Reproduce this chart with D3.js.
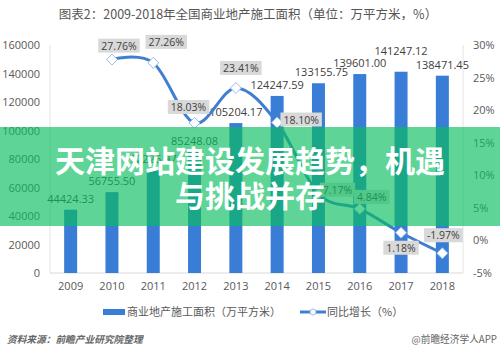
<!DOCTYPE html>
<html><head><meta charset="utf-8">
<script src="https://cdn.jsdelivr.net/npm/d3@7"></script>
<style>
html,body{margin:0;padding:0;background:#fff;}
svg{display:block;font-family:"Noto Sans CJK SC","Noto Sans",sans-serif;}
</style></head>
<body><svg id="c" width="500" height="353"></svg>
<script>
const years = ["2009","2010","2011","2012","2013","2014","2015","2016","2017","2018"];
const area = [44424.33, 56755.50, 72226.97, 85248.08, 105204.17, 124247.59, 133155.75, 139601.00, 141247.12, 138471.45];
const growthYears = ["2010","2011","2012","2013","2014","2015","2016","2017","2018"];
const growth = [27.76, 27.26, 18.03, 23.41, 18.10, 7.17, 4.84, 1.18, -1.97];
const leftTicks = [0, 20000, 40000, 60000, 80000, 100000, 120000, 140000, 160000];
const rightTicks = [-5, 0, 5, 10, 15, 20, 25, 30];
const title = "图表2：2009-2018年全国商业地产施工面积（单位：万平方米，%）";
const legendBar = "商业地产施工面积（万平方米）";
const legendLine = "同比增长（%）";
const source = "资料来源：前瞻产业研究院整理";
const credit = "@前瞻经济学人APP";
const overlayLines = ["天津网站建设发展趋势，机遇", "与挑战并存"];

const svg = d3.select("#c");
const L = 50, R = 463, T = 45, B = 273;
const x = d3.scaleBand().domain(years).range([L, R]).padding(0);
const yL = d3.scaleLinear().domain([0, 160000]).range([B, T]);
const yR = d3.scaleLinear().domain([-5, 30]).range([B, T]);
const barW = 13;
const blue = "#3a7dd7", lineBlue = "#3f7fd2", txt = "#595959";

// title
svg.append("text").attr("x", 248).attr("y", 19).attr("text-anchor", "middle")
  .attr("font-size", 12.5).attr("fill", "#555").text(title);

// frame lines
svg.append("line").attr("x1", L).attr("x2", L).attr("y1", T).attr("y2", B).attr("stroke", "#e3e3e3");
svg.append("line").attr("x1", R).attr("x2", R).attr("y1", T).attr("y2", B).attr("stroke", "#e3e3e3");
svg.append("line").attr("x1", L).attr("x2", R).attr("y1", B).attr("y2", B).attr("stroke", "#d9d9d9");

// left axis
const axL = svg.append("g").attr("transform", `translate(${L},0)`)
  .call(d3.axisLeft(yL).tickValues(leftTicks).tickSize(0).tickPadding(10).tickFormat(d3.format("d")));
axL.select(".domain").remove();
axL.selectAll("text").attr("font-size", 11).attr("fill", txt).attr("font-family", "'Open Sans','Noto Sans',sans-serif");

// right axis
const axR = svg.append("g").attr("transform", `translate(${R},0)`)
  .call(d3.axisRight(yR).tickValues(rightTicks).tickSize(0).tickPadding(10).tickFormat(d => d + "%"));
axR.select(".domain").remove();
axR.selectAll("text").attr("font-size", 11).attr("fill", txt).attr("font-family", "'Open Sans','Noto Sans',sans-serif");

// bottom axis
const axB = svg.append("g").attr("transform", `translate(0,${B})`)
  .call(d3.axisBottom(x).tickSize(0).tickPadding(9));
axB.select(".domain").remove();
axB.selectAll("text").attr("font-size", 11).attr("fill", txt).attr("font-family", "'Open Sans','Noto Sans',sans-serif");

// bars
svg.append("g").selectAll("rect").data(area).join("rect")
  .attr("x", (d, i) => x(years[i]) + x.bandwidth() / 2 - barW / 2)
  .attr("width", barW)
  .attr("y", d => yL(d))
  .attr("height", d => B - yL(d))
  .attr("fill", blue);

// bar labels
const barLift = [0, 0, 0, 0, 0, 0, 0, 0, 10, 0];
const barShift = [0, 0, 0, 0, 0, 0, 3, 0, 0, 0];
svg.append("g").selectAll("text").data(area).join("text")
  .attr("x", (d, i) => x(years[i]) + x.bandwidth() / 2 + barShift[i])
  .attr("y", (d, i) => yL(d) - 7 - barLift[i])
  .attr("text-anchor", "middle").attr("font-size", 11).attr("fill", "#404040")
  .attr("font-family", "'Open Sans','Noto Sans',sans-serif")
  .text(d => d.toFixed(2));

// growth line
const pts = growth.map((g, i) => [x(growthYears[i]) + x.bandwidth() / 2, yR(g)]);
svg.append("path").datum(pts)
  .attr("d", d3.line().curve(d3.curveCardinal.tension(0)))
  .attr("fill", "none").attr("stroke", lineBlue).attr("stroke-width", 3);

svg.append("g").selectAll("path").data(pts).join("path")
  .attr("transform", d => `translate(${d[0]},${d[1]})`)
  .attr("d", "M0,-5.5L5.5,0L0,5.5L-5.5,0Z")
  .attr("fill", "#fff").attr("stroke", "#9dbbe6").attr("stroke-width", 1);

// line labels
const lblOff = [[7, -14], [13, -21], [-6, -16], [5, -20], [24, -3], [19, -4], [12, -12], [0, 15], [1, -18]];
const lg = svg.append("g");
growth.forEach((g, i) => {
  const cx = pts[i][0] + lblOff[i][0], cy = pts[i][1] + lblOff[i][1];
  const grp = lg.append("g");
  const t = grp.append("text").attr("x", cx).attr("y", cy + 4)
    .attr("text-anchor", "middle").attr("font-size", 10.5).attr("fill", "#404040")
    .attr("font-family", "'Open Sans','Noto Sans',sans-serif")
    .text(g.toFixed(2) + "%");
  const w = t.node().getComputedTextLength() + 6;
  grp.insert("rect", "text").attr("x", cx - w / 2).attr("y", cy - 7).attr("width", w).attr("height", 14)
    .attr("fill", "#d9d9d9");
});

// legend
const legY = 312;
svg.append("rect").attr("x", 103).attr("y", legY - 3).attr("width", 22).attr("height", 6).attr("fill", blue);
svg.append("text").attr("x", 127).attr("y", legY + 4).attr("font-size", 11).attr("fill", txt).text(legendBar);
svg.append("line").attr("x1", 300).attr("x2", 326).attr("y1", legY).attr("y2", legY).attr("stroke", lineBlue).attr("stroke-width", 3);
svg.append("circle").attr("cx", 313).attr("cy", legY).attr("r", 3).attr("fill", "#fff").attr("stroke", "#9dbbe6");
svg.append("text").attr("x", 327).attr("y", legY + 4).attr("font-size", 11).attr("fill", txt).text(legendLine);

// footer
svg.append("text").attr("x", 7).attr("y", 343).attr("font-size", 9.7).attr("font-style", "italic")
  .attr("font-weight", "bold").attr("fill", "#666").text(source);
svg.append("text").attr("x", 497).attr("y", 343).attr("text-anchor", "end").attr("font-size", 9.7)
  .attr("fill", "#666").text(credit);

// overlay banner
svg.append("rect").attr("x", 0).attr("y", 127).attr("width", 500).attr("height", 99)
  .attr("fill", "rgb(8,190,93)").attr("fill-opacity", 0.65);
overlayLines.forEach((s, i) => {
  svg.append("text").attr("x", 250).attr("y", 172 + i * 35).attr("text-anchor", "middle")
    .attr("font-size", 30).attr("font-weight", "bold").attr("fill", "#fff")
    .attr("font-family", "'Noto Sans CJK SC',sans-serif").text(s);
});
</script></body></html>
